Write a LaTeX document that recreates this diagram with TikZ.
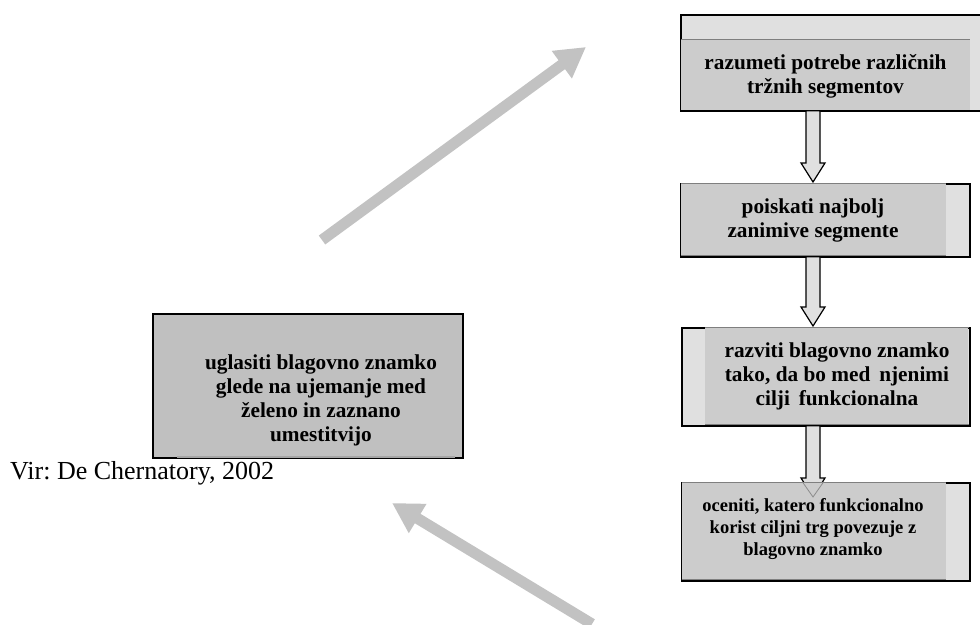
\documentclass[tikz,border=0pt]{standalone}
\usepackage{fontspec}
\setmainfont{Liberation Serif}
\usetikzlibrary{arrows.meta,calc}
\definecolor{boxlight}{HTML}{E0E0E0}
\definecolor{boxmid}{HTML}{CCCCCC}
\definecolor{boxdark}{HTML}{C0C0C0}
\definecolor{edgegray}{HTML}{7F7F7F}
\definecolor{bigarrow}{HTML}{C2C2C2}
\frenchspacing

% hollow block arrow from #1 (shaft top) down to #2 (tip)
\newcommand\blockarr[2]{%
  \draw[blockarrow] ($(#1)+(-7,0)$) -- ($(#2)+(-7,-19)$) -- ($(#2)+(-12,-19)$)
    -- (#2) -- ($(#2)+(12,-19)$) -- ($(#2)+(7,-19)$) -- ($(#1)+(7,0)$) -- cycle;}

\begin{document}
\begin{tikzpicture}[x=1pt,y=-1pt,
  frame/.style={draw=black,line width=1.5pt,fill=boxlight,inner sep=0pt,anchor=north west},
  leftframe/.style={draw=black,line width=1.5pt,fill=boxdark,inner sep=0pt,anchor=north west},
  boxtext/.style={align=center,inner sep=0pt,font=\fontsize{21.3}{24}\selectfont\bfseries},
  smalltext/.style={align=center,inner sep=0pt,font=\fontsize{18.5}{22}\selectfont\bfseries},
  blockarrow/.style={draw=black,line width=1.2pt,fill=boxlight,line join=miter},
  gray edge/.style={draw=edgegray,line width=1pt},
  big arrow/.style={draw=bigarrow,line width=11pt,
    -{Triangle[length=30pt,width=32pt]}}]
\useasboundingbox (0,0) rectangle (980,624);

% ---- step 1 ----
\node[frame,minimum width=302pt,minimum height=96pt] (b1) at (680,14) {};
\fill[boxmid] (681,39) rectangle (970,109.5);
\draw[gray edge] (681,39) -- (970,39);
\node[boxtext] (t1) at (825.5,76) {razumeti potrebe različnih\\tržnih segmentov};

% ---- step 2 ----
\node[frame,minimum width=289pt,minimum height=73pt] (b2) at (680,183) {};
\fill[boxmid] (681,183.7) rectangle (946,255.3);
\draw[gray edge] (681,183.5) -- (946,183.5);
\draw[gray edge] (681,255.5) -- (946,255.5);
\node[boxtext] (t2) at (813,220) {poiskati najbolj\\zanimive segmente};

% ---- step 3 ----
\node[frame,minimum width=288pt,minimum height=98pt] (b3) at (681,327) {};
\fill[boxmid] (705,327.7) rectangle (968.3,424.3);
\draw[gray edge] (705,327.5) -- (969,327.5);
\draw[gray edge] (705,424.5) -- (969,424.5);
\node[boxtext] (t3) at (837,376) {razviti blagovno znamko\\tako, da bo med\, njenimi\\cilji\, funkcionalna};

% connectors between steps
\coordinate (a1s) at (813,110.7);
\coordinate (a1e) at (813,182);
\coordinate (a2s) at (813,256.7);
\coordinate (a2e) at (813,326);
\coordinate (a3s) at (813,425.7);
\coordinate (a3e) at (813,497);
\blockarr{a1s}{a1e}
\blockarr{a2s}{a2e}
\blockarr{a3s}{a3e}

% ---- step 4 ----
\node[frame,minimum width=288pt,minimum height=98pt] (b4) at (681,482) {};
\fill[boxmid] (681.7,482.7) rectangle (946,579.3);
\draw[gray edge] (681.7,482.5) -- (946,482.5);
\draw[gray edge] (681.7,579.5) -- (946,579.5);
% arrow tip seen through the box
\draw[draw=gray!90,line width=0.8pt] ($(a3e)+(-10.5,-15)$) -- (a3e) -- ($(a3e)+(10.5,-15)$);
\node[smalltext] (t4) at (813,529) {oceniti, katero funkcionalno\\korist ciljni trg povezuje z\\blagovno znamko};

% ---- left box ----
\node[leftframe,minimum width=310pt,minimum height=144pt] (lb) at (152,313) {};
\draw[draw=edgegray!70,line width=1.2pt] (177,457) -- (455,457);
\node[boxtext] (tl) at (321,400) {uglasiti blagovno znamko\\glede na ujemanje med\\želeno in zaznano\\umestitvijo};

% source
\node[anchor=base west,inner sep=0pt,font=\fontsize{26}{30}\selectfont] (src) at (10,479) {Vir: De Chernatory, 2002};

% large grey arrows
\coordinate (g1s) at (322,240);
\coordinate (g1e) at (586,47);
\coordinate (g2s) at (592,624);
\coordinate (g2e) at (392,503);
\draw[big arrow] (g1s) -- (g1e);
\draw[big arrow] (g2s) -- (g2e);
\end{tikzpicture}
\end{document}
